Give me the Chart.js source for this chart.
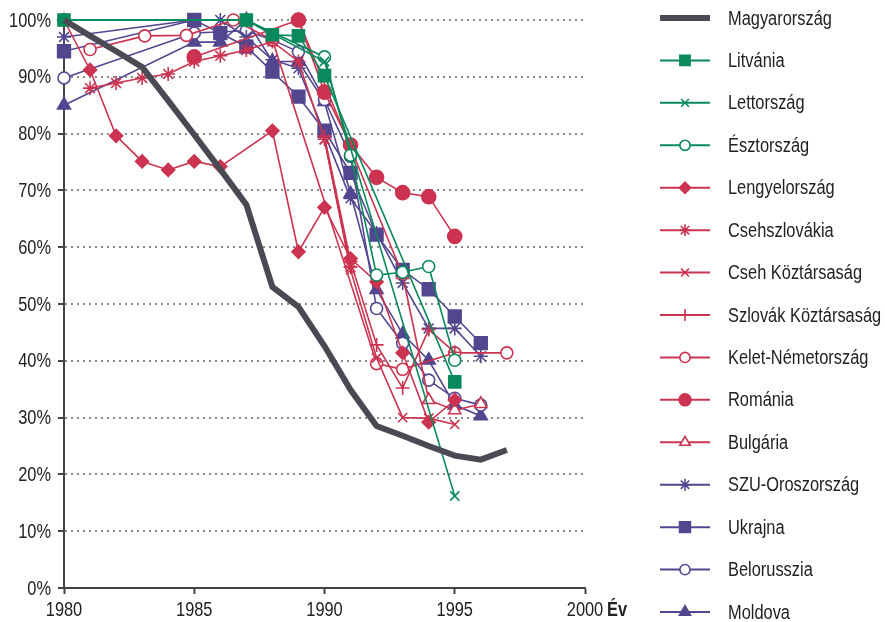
<!DOCTYPE html>
<html>
<head>
<meta charset="utf-8">
<script src="https://cdn.jsdelivr.net/npm/chart.js@4.4.1/dist/chart.umd.min.js"></script>
<style>
  html, body { margin: 0; padding: 0; background: #fff; }
  #doboz { width: 885px; height: 622px; }
</style>
</head>
<body>
<div id="doboz"><canvas id="grafikon"></canvas></div>
<script>
// Évek (x tengely) és az egyes országok értékei (%), null = nincs adat
const evek = [1980, 1981, 1982, 1983, 1984, 1985, 1986, 1987, 1988, 1989, 1990, 1991, 1992, 1993, 1994, 1995, 1996, 1997];

const magyarorszag = [100, 97.2, 94.5, 91.7, 85.8, 79.8, 73.7, 67.5, 53, 49.5, 42.6, 34.9, 28.5, 26.8, 25, 23.3, 22.6, 24.3];
const litvania     = [100, null, null, null, null, null, null, 100, 97.4, 97.2, 90.2, null, null, null, null, 36.3, null, null];
const lettorszag   = [100, null, null, null, null, null, null, 100, null, null, 92.7, null, null, null, null, 16.2, null, null];
const esztorszag   = [100, null, null, null, null, null, null, 100, null, null, 93.5, 76.2, 55.1, 55.6, 56.6, 40.1, null, null];
const lengyel      = [100, 91.2, 79.6, 75.1, 73.6, 75.1, 74.2, null, 80.5, 59.2, 67, 58, 53.9, 41.4, 29.2, 33.1, null, null];
const csehszlovak  = [null, 88, 88.9, 89.8, 90.5, 92.7, 93.7, 94.7, 96.2, 92.7, 79, 56.5, null, null, null, null, null, null];
const cseh         = [null, null, null, null, null, null, null, null, null, null, 78.9, 56, 40.5, 30, 29.9, 28.8, null, null];
const szlovak      = [null, null, null, null, null, null, null, null, null, null, 79.5, 57.5, 42.8, 35.2, 45.5, 41.5, null, null];
const romania      = [null, null, null, null, null, 93.5, null, null, null, 100, 87.3, 78, 72.3, 69.6, 68.9, 61.9, null, null];
const bulgaria     = [null, null, null, null, null, null, null, null, null, 100, null, null, null, 55.1, 33.1, 31.3, 32.4, null];
const szu          = [97, null, null, null, null, 100, 100, 97, 93, 91.5, 80, 68.6, 62.5, 53.7, 45.7, 45.7, 40.8, null];
const ukrajna      = [94.5, null, null, null, null, 100, 97.7, 95.3, 90.9, 86.5, 80.5, 73.1, 62.2, 56, 52.6, 47.8, 43.1, null];
const belorusszia  = [89.8, null, null, null, null, 97.7, null, 98.1, 96.5, 94.4, 86, 76, 49.2, 43.1, 36.6, 33.4, 32.2, null];
const moldova      = [85, null, null, null, null, 96.1, 96.1, 100, 92.7, 92.7, 85.6, 69.4, 52.5, 44.7, 40.1, 32.2, 30.3, null];

// Kelet-Németország pontjai nem egész évekre esnek
const keletEvek = [1981, 1983.1, 1984.7, 1986.5, 1988, 1992, 1993, 1995, 1997];
const kelet     = [94.8, 97.2, 97.3, 100, 96.5, 39.5, 38.5, 41.4, 41.4];

const szurke = '#4a4a55';
const zold = '#0a8a5c';
const piros = '#cc3350';
const lila = '#52478f';
const betu = "'Liberation Sans', Arial, sans-serif";
const szukites = 0.82; // keskeny betű utánzása vízszintes zsugorítással

function pontok(xek, ertekek) {
    const ki = [];
    for (let i = 0; i < ertekek.length; i++) {
        if (ertekek[i] !== null) ki.push({ x: xek[i], y: ertekek[i] });
    }
    return ki;
}

function sorozat(nev, xek, ertekek, szin, stilus, meret, ures) {
    return {
        label: nev,
        data: pontok(xek, ertekek),
        borderColor: szin,
        backgroundColor: ures ? '#ffffff' : szin,
        borderWidth: 1.6,
        pointStyle: stilus,
        pointRadius: meret,
        pointBorderWidth: 1.6,
        pointBorderColor: szin,
        pointBackgroundColor: ures ? '#ffffff' : szin,
        tension: 0,
        clip: false
    };
}

const adatsorok = [
    {
        label: 'Magyarország',
        data: pontok(evek, magyarorszag),
        borderColor: szurke,
        backgroundColor: szurke,
        borderWidth: 6,
        pointRadius: 0,
        pointStyle: false,
        tension: 0,
        clip: false
    },
    sorozat('Litvánia', evek, litvania, zold, 'rect', 8.5, false),
    sorozat('Lettország', evek, lettorszag, zold, 'crossRot', 6.5, false),
    sorozat('Észtország', evek, esztorszag, zold, 'circle', 6, true),
    sorozat('Lengyelország', evek, lengyel, piros, 'rectRot', 6.5, false),
    sorozat('Csehszlovákia', evek, csehszlovak, piros, 'star', 7, false),
    sorozat('Cseh Köztársaság', evek, cseh, piros, 'crossRot', 6.5, false),
    sorozat('Szlovák Köztársaság', evek, szlovak, piros, 'cross', 7, false),
    sorozat('Kelet-Németország', keletEvek, kelet, piros, 'circle', 6, true),
    sorozat('Románia', evek, romania, piros, 'circle', 7, false),
    sorozat('Bulgária', evek, bulgaria, piros, 'triangle', 7, true),
    sorozat('SZU-Oroszország', evek, szu, lila, 'star', 7, false),
    sorozat('Ukrajna', evek, ukrajna, lila, 'rect', 9, false),
    sorozat('Belorusszia', evek, belorusszia, lila, 'circle', 6, true),
    sorozat('Moldova', evek, moldova, lila, 'triangle', 7.5, false)
];

function keskenySzoveg(ctx, szoveg, x, y, igazit) {
    ctx.save();
    ctx.translate(x, y);
    ctx.scale(szukites, 1);
    ctx.textAlign = igazit;
    ctx.fillText(szoveg, 0, 0);
    ctx.restore();
}

// Tengelyfeliratok és saját jelmagyarázat
const feliratok = {
    id: 'feliratok',
    afterDraw(chart) {
        const ctx = chart.ctx;
        const sx = chart.scales.x;
        const sy = chart.scales.y;
        ctx.save();
        ctx.fillStyle = '#222';
        ctx.textBaseline = 'middle';
        ctx.font = '20px ' + betu;
        sy.ticks.forEach(t => {
            keskenySzoveg(ctx, t.value + '%', 51, sy.getPixelForValue(t.value) + 1, 'right');
        });
        const feliratY = sx.top + 22;
        sx.ticks.forEach(t => {
            keskenySzoveg(ctx, String(t.value), sx.getPixelForValue(t.value), feliratY, 'center');
        });
        ctx.font = 'bold 20px ' + betu;
        keskenySzoveg(ctx, 'Év', 607, feliratY, 'left');

        chart.data.datasets.forEach((ds, i) => {
            const y = 18 + i * 42.43;
            ctx.strokeStyle = ds.borderColor;
            ctx.lineWidth = i === 0 ? 6 : 2;
            ctx.beginPath();
            ctx.moveTo(660, y);
            ctx.lineTo(710, y);
            ctx.stroke();
            if (ds.pointRadius > 0) {
                ctx.fillStyle = ds.pointBackgroundColor;
                ctx.strokeStyle = ds.borderColor;
                ctx.lineWidth = 1.6;
                Chart.helpers.drawPoint(ctx, {
                    pointStyle: ds.pointStyle,
                    rotation: 0,
                    radius: ds.pointRadius * 0.85,
                    borderWidth: 1.6
                }, 685, y);
            }
            ctx.fillStyle = '#222';
            ctx.font = '20px ' + betu;
            keskenySzoveg(ctx, ds.label, 728, y + 1, 'left');
        });
        ctx.restore();
    }
};

new Chart(document.getElementById('grafikon'), {
    type: 'line',
    data: { datasets: adatsorok },
    options: {
        responsive: true,
        maintainAspectRatio: false,
        animation: false,
        layout: { padding: { top: 20, right: 300, left: 0, bottom: 0 } },
        plugins: {
            legend: { display: false },
            tooltip: { enabled: false }
        },
        scales: {
            x: {
                type: 'linear',
                min: 1980,
                max: 2000,
                ticks: { stepSize: 5, display: false },
                grid: { drawOnChartArea: false, drawTicks: true, tickLength: 6, tickColor: '#444', tickWidth: 2 },
                border: { color: '#444', width: 2 },
                afterFit: s => { s.height = 34; }
            },
            y: {
                min: 0,
                max: 100,
                ticks: { stepSize: 10, display: false },
                grid: {
                    color: '#8a8a8a',
                    lineWidth: 2,
                    tickLength: 6,
                    tickColor: '#444',
                    tickWidth: 2,
                    tickBorderDash: []
                },
                border: { color: '#444', width: 2, dash: [2, 4] },
                afterFit: s => { s.width = 64; }
            }
        }
    },
    plugins: [feliratok]
});
</script>
</body>
</html>
